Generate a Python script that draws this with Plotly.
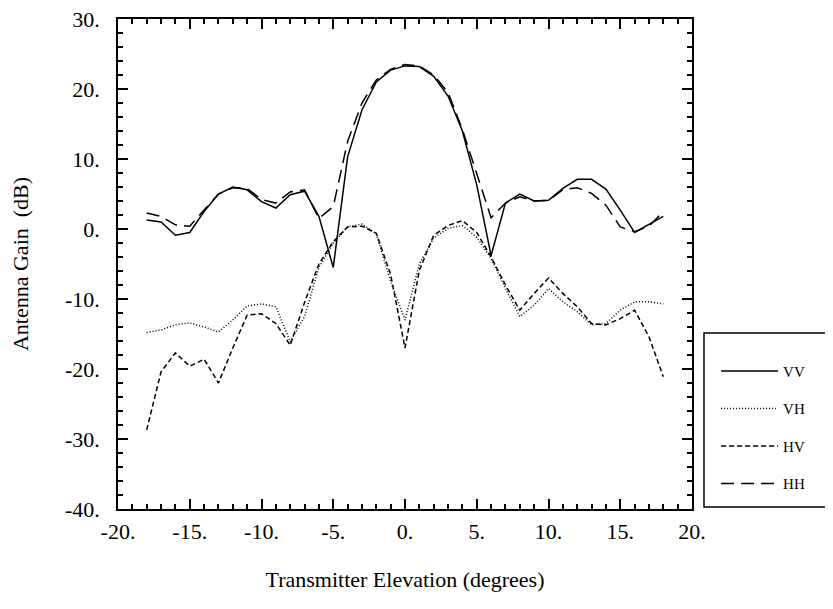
import plotly.graph_objects as go

elev = list(range(-18, 19))

vv = [1.3, 1.0, -0.9, -0.5, 2.5, 5.0, 6.0, 5.6, 3.9, 3.0, 4.9, 5.4, 1.8, -5.5, 10.3,
      17.0, 21.0, 22.7, 23.3, 23.2, 21.8, 19.0, 14.0, 6.3, -3.8, 3.7, 5.0, 4.0, 4.1,
      5.8, 7.1, 7.1, 5.7, 2.7, -0.5, 0.6, 1.8]

vh = [-14.8, -14.4, -13.7, -13.4, -14.0, -14.7, -13.0, -11.0, -10.7, -11.1, -16.1,
      -12.5, -5.5, -2.0, 0.3, 0.7, -0.7, -7.5, -13.0, -5.0, -1.3, 0.1, 0.5, -1.2,
      -4.2, -8.5, -12.5, -10.9, -8.5, -10.4, -11.8, -13.7, -13.5, -11.6, -10.4,
      -10.4, -10.7]

hv = [-28.7, -20.4, -17.7, -19.6, -18.6, -22.0, -17.0, -12.3, -12.1, -13.5, -16.6,
      -10.5, -5.0, -1.8, 0.3, 0.4, -0.6, -6.5, -17.0, -5.9, -0.9, 0.5, 1.2, -0.5,
      -4.0, -8.0, -11.6, -9.2, -7.0, -9.2, -11.1, -13.5, -13.7, -12.8, -11.6,
      -15.4, -21.1]

hh = [2.3, 1.8, 0.6, 0.4, 2.7, 5.0, 5.9, 5.8, 4.2, 3.7, 5.3, 5.6, 1.5, 3.2, 12.5,
      18.0, 21.3, 22.8, 23.5, 23.3, 22.0, 19.5, 14.2, 8.0, 1.6, 3.7, 4.6, 4.0, 4.1,
      5.6, 5.9, 5.1, 3.4, 0.3, -0.4, 0.4, 2.5]

x_tickvals = [-20, -15, -10, -5, 0, 5, 10, 15, 20]
x_ticktext = ["-20.", "-15.", "-10.", "-5.", "0.", "5.", "10.", "15.", "20."]
y_tickvals = [-40, -30, -20, -10, 0, 10, 20, 30]
y_ticktext = ["-40.", "-30.", "-20.", "-10.", "0.", "10.", "20.", "30."]

series = [
    ("VV", vv, "solid"),
    ("VH", vh, "1px,2px"),
    ("HV", hv, "5px,3px"),
    ("HH", hh, "13px,7px"),
]

FONT = "Liberation Serif, Times New Roman, serif"

fig = go.Figure()
for i, (name, vals, dash) in enumerate(series):
    fig.add_trace(go.Scatter(
        x=elev, y=vals, mode="lines", name=name, legendgroup=name,
        line=dict(color="black", width=1.5, dash=dash),
    ))

axis_common = dict(
    showgrid=False, zeroline=False, showline=True, linecolor="black",
    linewidth=1.5, mirror="ticks", ticks="inside", ticklen=10, tickwidth=1.5,
    tickcolor="black", tickfont=dict(family=FONT, size=22, color="black"),
    automargin=False, ticklabeloverflow="allow",
)

fig.update_xaxes(
    range=[-20, 20], tickmode="array", tickvals=x_tickvals, ticktext=x_ticktext,
    minor=dict(dtick=1, ticks="inside", ticklen=5, tickwidth=1.5, tickcolor="black"),
    title=dict(text="Transmitter Elevation (degrees)",
               font=dict(family=FONT, size=22, color="black"), standoff=28),
    ticklabelstandoff=2,
    **axis_common,
)
fig.update_yaxes(
    range=[-40, 30], tickmode="array", tickvals=y_tickvals, ticktext=y_ticktext,
    minor=dict(dtick=2, ticks="inside", ticklen=5, tickwidth=1.5, tickcolor="black"),
    title=dict(text="Antenna Gain\u00a0\u00a0(dB)",
               font=dict(family=FONT, size=22, color="black"), standoff=34),
    ticklabelstandoff=12,
    **axis_common,
)

fig.add_shape(type="rect", xref="paper", yref="paper",
              x0=1.0209, x1=1.35, y0=0.004, y1=0.3592,
              line=dict(color="black", width=1.5), fillcolor="rgba(0,0,0,0)")

fig.update_layout(
    width=825, height=601,
    margin=dict(l=110, r=141, t=11, b=100, autoexpand=False),
    plot_bgcolor="white", paper_bgcolor="white",
    showlegend=True,
    legend=dict(
        x=1.042, xanchor="left", y=0.315, yanchor="top",
        font=dict(family=FONT, size=15, color="black"),
        bgcolor="rgba(0,0,0,0)", borderwidth=0,
        itemwidth=57, tracegroupgap=15, traceorder="grouped",
    ),
)

fig.write_html("out.html")
